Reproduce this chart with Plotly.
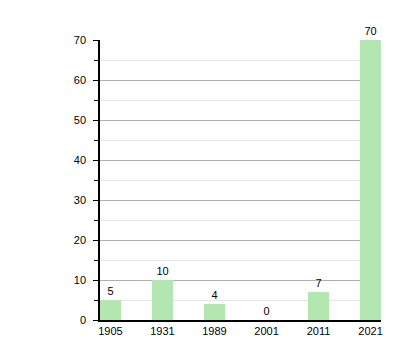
import plotly.graph_objects as go

categories = ["1905", "1931", "1989", "2001", "2011", "2021"]
values = [5, 10, 4, 0, 7, 70]
labels = [str(v) for v in values]

fig = go.Figure()
fig.add_trace(go.Bar(
    x=list(range(len(categories))),
    y=values,
    text=labels,
    textposition="outside",
    textfont=dict(color="#000000", size=11, family="Liberation Sans, Arial, sans-serif"),
    cliponaxis=False,
    marker=dict(color="#b3e6b0", line=dict(width=0)),
    width=0.4,
))

fig.update_layout(
    width=420, height=360,
    margin=dict(l=100, r=39, t=40, b=40),
    paper_bgcolor="white", plot_bgcolor="white",
    showlegend=False,
    font=dict(family="Liberation Sans, Arial, sans-serif", size=11, color="#000000"),
    bargap=0,
)
fig.update_xaxes(
    range=[-0.2, 5.2],
    tickmode="array",
    tickvals=list(range(len(categories))),
    ticktext=categories,
    showgrid=False,
    showline=True, linecolor="#000000", linewidth=1.5,
    ticks="",
    zeroline=False,
)
fig.update_yaxes(
    range=[0, 70],
    dtick=10,
    showgrid=True, gridcolor="#b0b0b0", gridwidth=1,
    showline=True, linecolor="#000000", linewidth=1.5,
    ticks="outside", ticklen=5, tickcolor="#000000",
    ticklabelstandoff=5,
    minor=dict(dtick=5, showgrid=True, gridcolor="#e6e6e6", ticks="outside", ticklen=4, tickcolor="#000000"),
    zeroline=False,
)

fig.write_html("out.html")
